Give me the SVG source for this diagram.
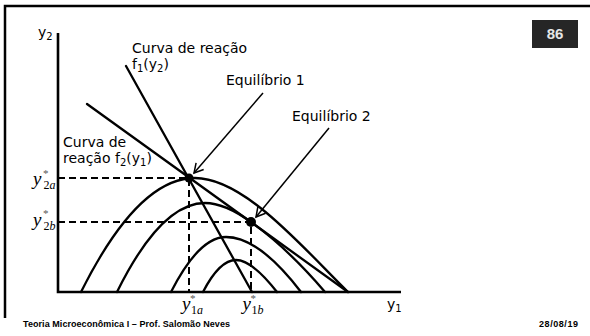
<svg xmlns="http://www.w3.org/2000/svg" width="590" height="336" viewBox="0 0 590 336">
<defs>
<marker id="open" markerUnits="userSpaceOnUse" markerWidth="14" markerHeight="14" viewBox="-12 -7 14 14" refX="0" refY="0" orient="auto">
<path d="M-9,-5 L0,0 L-9,5" fill="none" stroke="#000" stroke-width="1.5"/>
</marker>
<style>
.frame{stroke:#000;stroke-width:2.5;fill:none}
.ax{stroke:#000;stroke-width:2.6;fill:none}
.crv{stroke:#000;stroke-width:2.3;fill:none;stroke-linecap:round}
.dash{stroke:#000;stroke-width:2;stroke-dasharray:7 4;fill:none}
.ptr{stroke:#000;stroke-width:1.5;fill:none;marker-end:url(#open)}
.lbl{font-family:"DejaVu Sans","Liberation Sans",sans-serif;font-size:14px;fill:#000}
.sub{font-size:10px}
.math{font-family:"Liberation Serif",serif;font-style:italic;font-size:19px;fill:#000}
.msub{font-family:"Liberation Serif",serif;font-size:12px;fill:#000}
.ast{font-family:"Liberation Serif",serif;font-size:11px;fill:#555}
.foot{font-family:"Liberation Sans",sans-serif;font-weight:bold;font-size:9px;fill:#000}
</style>
</defs>
<g id="frame">
<path class="frame" d="M5,318 V6 H590"/>
<rect x="532" y="20" width="46" height="28" fill="#262626"/>
<text x="555" y="39" text-anchor="middle" font-family="Liberation Sans,sans-serif" font-weight="bold" font-size="15" fill="#e6e6e6">86</text>
</g>
<g id="axes">
<path class="ax" d="M58,33 V292 H401"/>
<text class="lbl" x="38" y="37" font-size="13">y<tspan class="sub" dy="3">2</tspan></text>
<text class="lbl" x="387" y="309">y<tspan class="sub" dy="3">1</tspan></text>
</g>
<g id="guides">
<path class="dash" d="M58,178 H189 V292"/>
<path class="dash" d="M58,222 H251 V292"/>
</g>
<g id="isoprofit">
<path class="crv" d="M81,292 Q138,178 195,178 C245,178 305,250 348,292"/>
<path class="crv" d="M117,292 Q161,203 205,203 Q224.6,203 251,222 Q288,248.6 325,292"/>
<path class="crv" d="M171,292 Q199,237 226,237 Q259,237 301,292"/>
<path class="crv" d="M203,292 Q219.5,260 236,260 Q252,260 277,292"/>
</g>
<g id="f1">
<path class="crv" d="M126,66 L252,292"/>
<text class="lbl" x="132" y="53">Curva de reação</text>
<text class="lbl" x="132" y="69">f<tspan class="sub" dy="3">1</tspan><tspan dy="-3">(y</tspan><tspan class="sub" dy="3">2</tspan><tspan dy="-3">)</tspan></text>
</g>
<g id="f2">
<path class="crv" d="M87,104 L348,292"/>
<text class="lbl" x="63" y="147">Curva de</text>
<text class="lbl" x="63" y="163">reação f<tspan class="sub" dy="3">2</tspan><tspan dy="-3">(y</tspan><tspan class="sub" dy="3">1</tspan><tspan dy="-3">)</tspan></text>
</g>
<g id="eq1">
<circle cx="189" cy="178" r="4.5" fill="#000"/>
<text class="lbl" x="226" y="85">Equilíbrio 1</text>
</g>
<g id="eq2">
<circle cx="251" cy="222" r="5" fill="#000"/>
<text class="lbl" x="292" y="121">Equilíbrio 2</text>
</g>
<g id="labels">
<text class="math" x="33" y="185">y</text><text class="msub" x="43.5" y="189">2<tspan font-style="italic">a</tspan></text><text class="ast" x="43" y="177">*</text>
<text class="math" x="33" y="226">y</text><text class="msub" x="43.5" y="230">2<tspan font-style="italic">b</tspan></text><text class="ast" x="43" y="217">*</text>
<text class="math" x="182" y="310">y</text><text class="msub" x="191" y="314">1<tspan font-style="italic">a</tspan></text><text class="ast" x="190" y="302">*</text>
<text class="math" x="242.5" y="310">y</text><text class="msub" x="251.5" y="314">1<tspan font-style="italic">b</tspan></text><text class="ast" x="250.5" y="302">*</text>
</g>
<g id="connectors">
<line class="ptr" x1="263" y1="93" x2="194" y2="173"/>
<line class="ptr" x1="329" y1="128" x2="256" y2="217"/>
</g>
<g id="footer">
<text class="foot" x="23" y="327" textLength="207">Teoria Microeconômica I – Prof. Salomão Neves</text>
<text class="foot" x="539" y="327" textLength="39">28/08/19</text>
</g>
</svg>
